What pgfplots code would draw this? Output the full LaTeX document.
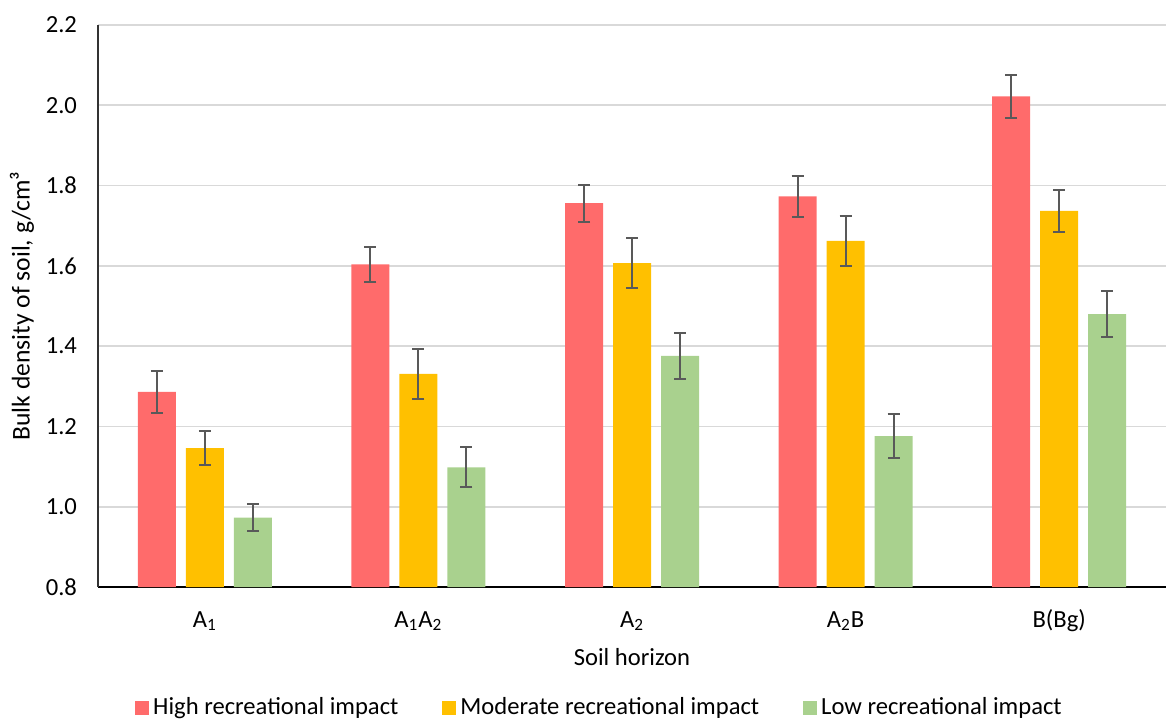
\documentclass[border=0pt]{standalone}
\usepackage{fontspec}
\setmainfont{Carlito}
\usepackage{pgfplots}
\pgfplotsset{compat=1.18}
\usepackage{pgfplotstable}
\definecolor{cred}{HTML}{FF6B6B}
\definecolor{cyel}{HTML}{FFC000}
\definecolor{cgrn}{HTML}{A9D18E}
\definecolor{cgrid}{HTML}{D9D9D9}
\definecolor{cerr}{HTML}{595959}
\pgfplotstableread{
x y e
0 1.286 0.052
1 1.604 0.043
2 1.756 0.046
3 1.773 0.052
4 2.022 0.053
}\high
\pgfplotstableread{
x y e
0 1.146 0.042
1 1.331 0.062
2 1.607 0.062
3 1.662 0.063
4 1.737 0.052
}\moder
\pgfplotstableread{
x y e
0 0.973 0.033
1 1.098 0.050
2 1.376 0.057
3 1.176 0.055
4 1.480 0.058
}\low
\begin{document}
\begin{tikzpicture}
\useasboundingbox (0,0) rectangle (583pt,360pt);
\begin{axis}[
  at={(49pt,66.5pt)}, anchor=south west,
  scale only axis, width=534pt, height=281pt,
  xmin=-0.5, xmax=4.5, ymin=0.8, ymax=2.2,
  ytick={0.8,1.0,...,2.2},
  xtick={0,1,2,3,4},
  xticklabels={A\textsubscript{1}, A\textsubscript{1}A\textsubscript{2}, A\textsubscript{2}, A\textsubscript{2}B, B(Bg)},
  axis lines*=left,
  axis line style={-},
  x axis line style={black, line width=1pt},
  y axis line style={black!80, line width=0.7pt},
  major tick length=0pt,
  ymajorgrids, grid style={cgrid, line width=0.9pt},
  /pgf/number format/assume math mode=true,
  yticklabel style={/pgf/number format/fixed, /pgf/number format/precision=1, /pgf/number format/fixed zerofill, xshift=-7pt},
  font=\fontsize{12.3}{14}\selectfont,
  ticklabel style={font=\fontsize{12.3}{14}\selectfont},
  xticklabel style={anchor=center, yshift=-17pt},
  xlabel={Soil horizon},
  ylabel={Bulk density of soil, g/cm³},
  xlabel style={at={(axis description cs:0.5,-0.1246)}, anchor=center},
  ylabel style={at={(axis description cs:-0.0712,0.5)}, anchor=center, font=\fontsize{12.8}{14}\selectfont},
  ybar, bar width=19pt,
  legend columns=3,
  legend style={draw=none, at={(axis description cs:0.4705,-0.215)}, anchor=center,
    font=\fontsize{12.3}{14}\selectfont,
    /tikz/every even column/.append style={column sep=20pt}},
  legend image code/.code={\fill[#1] (0pt,-3.5pt) rectangle (7pt,3.5pt);},
  error bars/y dir=both, error bars/y explicit,
  error bars/error bar style={cerr, line width=1pt},
  error bars/error mark options={rotate=90, mark size=3pt, line width=1pt, cerr},
  clip=false,
]
\addplot[fill=cred, draw=none, bar shift=-24pt] table[x=x, y=y, y error=e]{\high};
\addplot[fill=cyel, draw=none, bar shift=0pt] table[x=x, y=y, y error=e]{\moder};
\addplot[fill=cgrn, draw=none, bar shift=24pt] table[x=x, y=y, y error=e]{\low};
\legend{High recreational impact, Moderate recreational impact, Low recreational impact}
\end{axis}
\end{tikzpicture}
\end{document}
